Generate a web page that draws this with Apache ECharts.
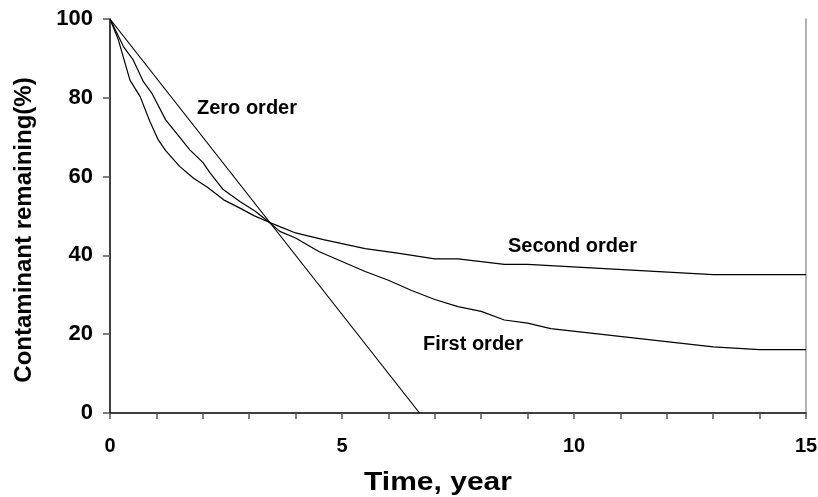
<!DOCTYPE html>
<html>
<head>
<meta charset="utf-8">
<script src="https://cdn.jsdelivr.net/npm/echarts@6/dist/echarts.min.js"></script>
<style>
  html, body { margin: 0; padding: 0; background: #fff; }
  #chart { width: 818px; height: 497px; }
</style>
</head>
<body>
<div id="chart"></div>
<script>
// Time (years) and contaminant remaining (%) for each kinetic model
const zeroOrderT = [0, 6.67];
const zeroOrderV = [100, 0];

const firstOrderT = [0, 0.29, 0.5, 0.72, 0.9, 1.2, 1.5, 1.72, 2.0, 2.16, 2.44, 2.8, 3.13, 3.43, 3.66, 4.0, 4.5, 5.5, 6.0, 6.5, 7.0, 7.5, 8.0, 8.5, 9.0, 9.5, 13.0, 14.0, 15.0];
const firstOrderV = [100, 93.0, 89.6, 84.1, 81.2, 74.4, 70.0, 66.8, 63.6, 60.9, 56.7, 53.7, 51.2, 48.4, 46.1, 44.4, 41.0, 35.9, 33.7, 31.1, 28.8, 27.0, 25.8, 23.6, 22.8, 21.4, 16.8, 16.1, 16.1];

const secondOrderT = [0, 0.18, 0.43, 0.65, 0.86, 1.04, 1.2, 1.5, 1.8, 2.1, 2.45, 2.8, 3.1, 3.43, 3.66, 4.0, 4.6, 5.5, 6.2, 7.0, 7.5, 8.5, 9.0, 13.0, 14.0, 15.0];
const secondOrderV = [100, 94.7, 84.5, 80.3, 74.0, 69.3, 66.6, 62.6, 59.6, 57.3, 54.1, 52.0, 50.1, 48.4, 47.3, 45.7, 44.0, 41.7, 40.6, 39.1, 39.1, 37.7, 37.7, 35.1, 35.1, 35.1];

const xTickLabels = [0, 5, 10, 15];
const yTickLabels = [0, 20, 40, 60, 80, 100];

const seriesNames = ['Zero order', 'First order', 'Second order'];
const xTitle = 'Time, year';
const yTitle = 'Contaminant remaining(%)';

const FONT = '"Liberation Sans", Arial, sans-serif';

function pairs(ts, vs) {
  return ts.map((t, i) => [t, vs[i]]);
}

function curve(name, ts, vs) {
  return {
    name: name,
    type: 'line',
    data: pairs(ts, vs),
    showSymbol: false,
    smooth: false,
    silent: true,
    lineStyle: { color: '#000', width: 1.2 }
  };
}

const chart = echarts.init(document.getElementById('chart'));

chart.setOption({
  animation: false,
  backgroundColor: '#fff',
  grid: { left: 110, right: 12, top: 19, bottom: 84, containLabel: false, outerBoundsMode: 'none' },
  xAxis: {
    type: 'value',
    min: 0,
    max: 15,
    interval: 1,
    axisLine: { lineStyle: { color: '#000', width: 1.5 } },
    axisTick: { show: true, length: 6, lineStyle: { color: '#555', width: 1.5 } },
    axisLabel: {
      margin: 23,
      fontFamily: FONT, fontWeight: 'bold', fontSize: 20, color: '#000',
      formatter: v => xTickLabels.includes(v) ? String(v) : ''
    },
    splitLine: { show: false }
  },
  yAxis: [{
    type: 'value',
    min: 0,
    max: 100,
    interval: 20,
    axisLine: { show: true, lineStyle: { color: '#000', width: 1.5 } },
    axisTick: { show: true, length: 7, lineStyle: { color: '#555', width: 1.5 } },
    axisLabel: {
      margin: 17,
      fontFamily: FONT, fontWeight: 'bold', fontSize: 22, color: '#000',
      formatter: v => yTickLabels.includes(v) ? String(v) : ''
    },
    splitLine: { show: false }
  }, {
    type: 'value',
    position: 'right',
    min: 0,
    max: 100,
    interval: 20,
    axisLine: { show: true, lineStyle: { color: '#999', width: 1.5 } },
    axisTick: { show: false },
    axisLabel: { show: false },
    splitLine: { show: false }
  }],
  series: [
    curve(seriesNames[0], zeroOrderT, zeroOrderV),
    curve(seriesNames[1], firstOrderT, firstOrderV),
    curve(seriesNames[2], secondOrderT, secondOrderV)
  ],
  graphic: [
    { type: 'text', left: 197, top: 98, style: { text: seriesNames[0], font: 'bold 20px ' + FONT, fill: '#000' } },
    { type: 'text', left: 423, top: 334, style: { text: seriesNames[1], font: 'bold 20px ' + FONT, fill: '#000' } },
    { type: 'text', left: 508, top: 236, style: { text: seriesNames[2], font: 'bold 20px ' + FONT, fill: '#000' } },
    // axis titles
    { type: 'text', x: 438, y: 483, scaleX: 1.2,
      style: { text: xTitle, font: 'bold 25px ' + FONT, fill: '#000', align: 'center', verticalAlign: 'middle' } },
    { type: 'text', x: 24, y: 230, rotation: Math.PI / 2,
      style: { text: yTitle, font: 'bold 24px ' + FONT, fill: '#000', align: 'center', verticalAlign: 'middle' } }
  ]
});
</script>
</body>
</html>
